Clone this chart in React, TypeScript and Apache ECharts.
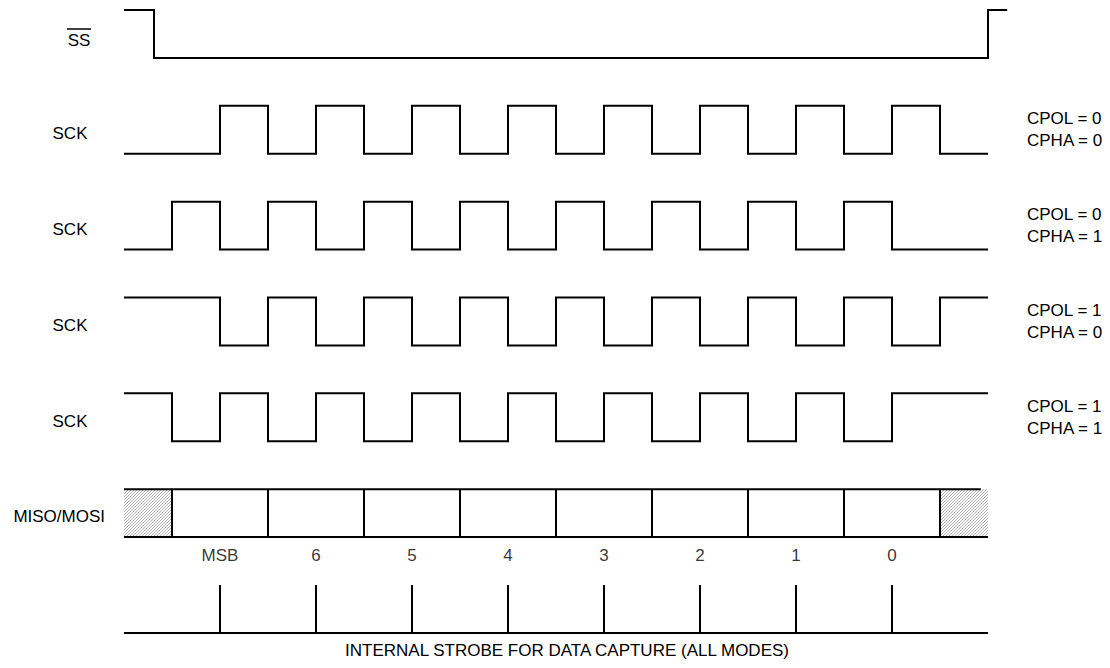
import React, { useEffect, useRef } from "react";
import * as echarts from "echarts";

// time axis in half clock periods
const halfPeriodTimes = [0, 1, 2, 3, 4, 5, 6, 7, 8, 9, 10, 11, 12, 13, 14, 15, 16, 17, 18];

// SS (active low)
const ssTimes = [0, 0.625, 18, 18.4];
const ssLevels = [1, 0, 1];

// SCK level in each half period
const sckMode00 = [0, 0, 1, 0, 1, 0, 1, 0, 1, 0, 1, 0, 1, 0, 1, 0, 1, 0];
const sckMode01 = [0, 1, 0, 1, 0, 1, 0, 1, 0, 1, 0, 1, 0, 1, 0, 1, 0, 0];
const sckMode10 = [1, 1, 0, 1, 0, 1, 0, 1, 0, 1, 0, 1, 0, 1, 0, 1, 0, 1];
const sckMode11 = [1, 0, 1, 0, 1, 0, 1, 0, 1, 0, 1, 0, 1, 0, 1, 0, 1, 1];
const sckRows = [sckMode00, sckMode01, sckMode10, sckMode11];
const sckModeLabels = [
  ["CPOL = 0", "CPHA = 0"],
  ["CPOL = 0", "CPHA = 1"],
  ["CPOL = 1", "CPHA = 0"],
  ["CPOL = 1", "CPHA = 1"],
];

// row baselines (y-axis values)
const ssBase = 0;
const sckBases = [-2, -4, -6, -8];
const dataBase = -10;
const strobeBase = -12;

// MISO/MOSI
const dataDividers = [1, 3, 5, 7, 9, 11, 13, 15, 17];
const dataHatch = [
  [0, 1],
  [17, 18],
];
const dataTopEnd = 17.85;
const dataBottomEnd = 18;
const bitLabels = ["MSB", "6", "5", "4", "3", "2", "1", "0"];
const bitTimes = [2, 4, 6, 8, 10, 12, 14, 16];

// internal strobe
const strobeTimes = [2, 4, 6, 8, 10, 12, 14, 16];
const strobeEnd = 18;

const FONT = "'Liberation Sans', Arial, Helvetica, sans-serif";

function stepPoints(times: number[], levels: number[], base: number) {
  const pts: number[][] = [];
  for (let i = 0; i < levels.length; i++) {
    pts.push([times[i], base + levels[i]]);
    pts.push([times[i + 1], base + levels[i]]);
  }
  return pts;
}

function makeHatch(): string {
  const c = document.createElement("canvas");
  c.width = 3;
  c.height = 3;
  const ctx = c.getContext("2d")!;
  ctx.fillStyle = "#ffffff";
  ctx.fillRect(0, 0, 3, 3);
  ctx.fillStyle = "#b4b4b4";
  ctx.fillRect(2, 0, 1, 1);
  ctx.fillRect(1, 1, 1, 1);
  ctx.fillRect(0, 2, 1, 1);
  return c.toDataURL();
}

export default function App() {
  const ref = useRef<HTMLDivElement>(null);
  useEffect(() => {
    if (!ref.current) return;
    const chart = echarts.init(ref.current, null, { renderer: "svg" });
    const hatchImg = makeHatch();

    const gridTop = 10;
    const gridLeft = 124;
    const unitY = 47.92;
    const yPix = (v: number) => gridTop + (1 - v) * unitY;

    const lineStyle = { color: "#000", width: 2, join: "miter" as const, cap: "butt" as const };

    const waveSeries: any[] = [];
    waveSeries.push({
      type: "line",
      data: stepPoints(ssTimes, ssLevels, ssBase),
      symbol: "none",
      lineStyle,
      clip: false,
      silent: true,
    });
    sckRows.forEach((lv, i) => {
      waveSeries.push({
        type: "line",
        data: stepPoints(halfPeriodTimes, lv, sckBases[i]),
        symbol: "none",
        lineStyle,
        clip: false,
        silent: true,
      });
    });
    waveSeries.push({
      type: "line",
      data: [
        [0, dataBase + 1],
        [dataTopEnd, dataBase + 1],
      ],
      symbol: "none",
      lineStyle,
      silent: true,
    });
    waveSeries.push({
      type: "line",
      data: [
        [0, dataBase],
        [dataBottomEnd, dataBase],
      ],
      symbol: "none",
      lineStyle,
      silent: true,
    });
    waveSeries.push({
      type: "line",
      data: [
        [0, strobeBase],
        [strobeEnd, strobeBase],
      ],
      symbol: "none",
      lineStyle,
      silent: true,
    });

    const segments: number[][] = [];
    dataDividers.forEach((t) => segments.push([t, dataBase, t, dataBase + 1]));
    strobeTimes.forEach((t) => segments.push([t, strobeBase, t, strobeBase + 1]));

    const textEls: any[] = [];
    const addText = (text: string, x: number, y: number, align: string) => {
      textEls.push({
        type: "text",
        x,
        y,
        style: {
          text,
          fill: "#000",
          fontSize: 17,
          fontFamily: FONT,
          textAlign: align,
          textVerticalAlign: "middle",
        },
      });
    };
    addText("SS", 79, 40, "center");
    textEls.push({
      type: "line",
      shape: { x1: 67, y1: 29, x2: 91, y2: 29 },
      style: { stroke: "#000", lineWidth: 1.5 },
    });
    sckBases.forEach((b, i) => {
      const center = (yPix(b) + yPix(b + 1)) / 2;
      addText("SCK", 70, center + 4, "center");
      addText(sckModeLabels[i][0], 1027, center - 11, "left");
      addText(sckModeLabels[i][1], 1027, center + 11, "left");
    });
    addText("MISO/MOSI", 105, (yPix(dataBase) + yPix(dataBase + 1)) / 2 + 3, "right");
    addText("INTERNAL STROBE FOR DATA CAPTURE (ALL MODES)", 567, 650, "center");

    chart.setOption({
      animation: false,
      backgroundColor: "#fff",
      grid: { left: gridLeft, top: gridTop, width: 48 * 18.5, height: unitY * 13 },
      xAxis: { type: "value", min: 0, max: 18.5, show: false },
      yAxis: { type: "value", min: -12, max: 1, show: false },
      graphic: textEls,
      series: [
        {
          type: "custom",
          data: dataHatch.map((h) => [h[0], h[1], dataBase, dataBase + 1]),
          z: 1,
          silent: true,
          renderItem: (params: any, api: any) => {
            const p1 = api.coord([api.value(0), api.value(3)]);
            const p2 = api.coord([api.value(1), api.value(2)]);
            return {
              type: "rect",
              shape: { x: p1[0], y: p1[1], width: p2[0] - p1[0], height: p2[1] - p1[1] },
              style: { fill: { image: hatchImg, repeat: "repeat" }, stroke: null },
            };
          },
        },
        ...waveSeries.map((s) => ({ ...s, z: 3 })),
        {
          type: "custom",
          data: segments,
          z: 3,
          silent: true,
          renderItem: (params: any, api: any) => {
            const p1 = api.coord([api.value(0), api.value(1)]);
            const p2 = api.coord([api.value(2), api.value(3)]);
            return {
              type: "line",
              shape: { x1: p1[0], y1: p1[1], x2: p2[0], y2: p2[1] },
              style: { stroke: "#000", lineWidth: 2 },
            };
          },
        },
        {
          type: "scatter",
          data: bitTimes.map((t, i) => [t, dataBase - 0.39, bitLabels[i]]),
          symbolSize: 0,
          silent: true,
          label: {
            show: true,
            position: "inside",
            formatter: (p: any) => p.data[2],
            color: "#000",
            fontSize: 17,
            fontFamily: FONT,
          },
        },
      ],
    });
    return () => chart.dispose();
  }, []);
  return (
    <div
      ref={ref}
      style={{ position: "fixed", left: 0, top: 0, width: 1110, height: 668, background: "#fff" }}
    />
  );
}
